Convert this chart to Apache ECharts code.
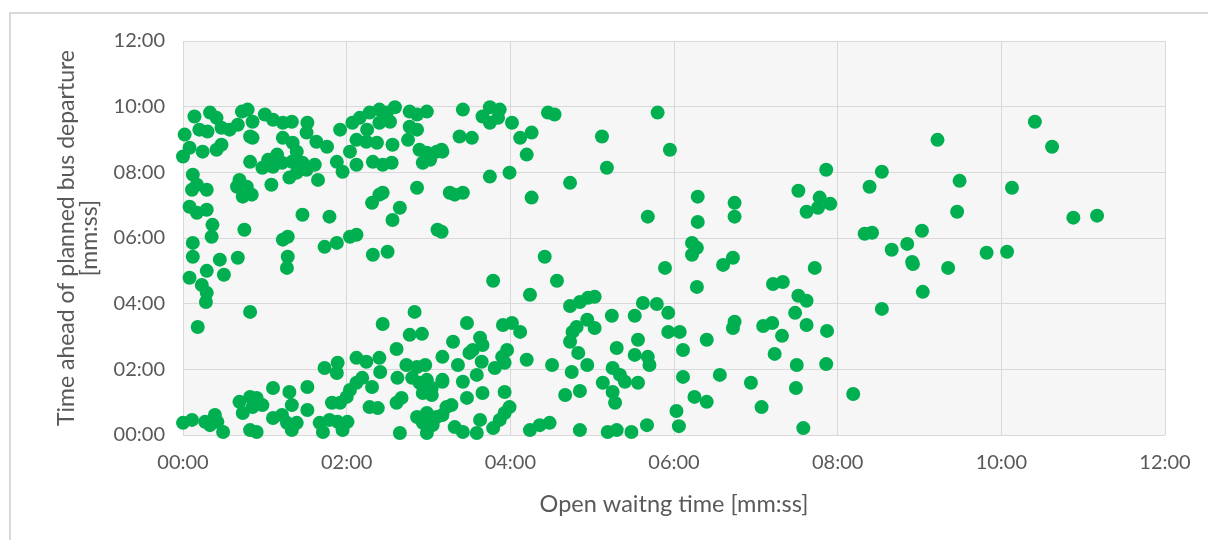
<!DOCTYPE html>
<html>
<head>
<meta charset="utf-8">
<script src="https://cdn.jsdelivr.net/npm/echarts@6/dist/echarts.min.js"></script>
<style>
html,body{margin:0;padding:0;background:#fff;}
#chart{width:1208px;height:540px;}
</style>
</head>
<body>
<div id="chart"></div>
<script>
// Values in minutes: [open waiting time, time ahead of planned bus departure]
const xTicks = [0, 2, 4, 6, 8, 10, 12];
const yTicks = [0, 2, 4, 6, 8, 10, 12];

const upperGroup = [
[0.14,9.70],[0.33,9.82],[0.41,9.66],[0.02,9.15],[0.20,9.30],[0.30,9.24],[0.47,9.36],[0.00,8.48],
[0.08,8.75],[0.24,8.63],[0.41,8.69],[0.47,8.84],[0.57,9.30],[0.72,9.85],[0.79,9.91],[0.85,9.54],
[1.00,9.76],[1.10,9.60],[1.22,9.51],[1.33,9.54],[0.82,9.09],[0.67,9.45],[0.85,9.05],[1.22,9.05],
[1.34,8.90],[1.52,9.51],[1.51,9.21],[1.63,8.93],[1.76,8.78],[1.39,8.63],[1.15,8.54],[1.04,8.38],
[0.97,8.14],[1.10,8.17],[1.21,8.29],[1.33,8.32],[1.30,7.84],[1.08,7.62],[1.39,7.99],[1.46,8.29],
[1.51,8.08],[1.61,8.23],[1.65,7.77],[0.82,8.32],[0.69,7.77],[0.66,7.56],[0.78,7.56],[0.84,7.32],
[0.73,7.26],[0.12,7.93],[0.17,7.62],[0.11,7.47],[0.29,7.47],[0.08,6.95],[0.17,6.77],[0.29,6.86],
[0.36,6.40],[0.35,6.04],[0.75,6.25],[0.12,5.85],[1.46,6.71],[1.79,6.65],[1.22,5.95],[1.28,6.04],
[1.28,5.43],[1.73,5.73],[1.88,5.85],[2.04,6.04],[2.12,6.10],[0.12,5.43],[0.45,5.34],[0.67,5.40],
[1.92,9.30],[2.07,9.51],[2.16,9.66],[2.28,9.82],[2.40,9.91],[2.49,9.82],[2.59,9.98],[2.40,9.51],
[2.53,9.54],[2.25,9.30],[2.12,8.99],[2.24,8.93],[2.37,8.90],[2.56,8.84],[2.04,8.63],[1.88,8.32],
[1.95,8.02],[2.12,8.23],[2.32,8.32],[2.44,8.23],[2.55,8.29],[2.77,9.85],[2.86,9.76],[2.98,9.85],
[2.77,9.39],[2.86,9.30],[2.75,8.99],[2.89,8.69],[2.98,8.60],[3.10,8.63],[3.16,8.69],[2.93,8.29],
[3.02,8.38],[2.86,7.53],[2.31,7.07],[2.40,7.32],[2.44,7.38],[2.65,6.92],[2.56,6.55],[3.11,6.25],
[2.32,5.49],[2.50,5.58],[3.26,7.38],
[3.42,9.91],[3.75,9.98],[3.87,9.91],[3.66,9.70],[3.75,9.51],[3.85,9.66],[4.02,9.51],[4.46,9.82],
[4.54,9.76],[5.80,9.82],[3.38,9.09],[3.53,9.05],[4.12,9.05],[4.26,9.21],[4.20,8.54],[5.12,9.09],
[5.95,8.69],[3.17,8.63],[5.18,8.14],[3.75,7.87],[3.99,7.99],[4.73,7.68],[3.32,7.32],[3.42,7.38],
[4.26,7.23],[5.68,6.65],[6.29,7.26],[6.29,6.49],[6.74,7.07],[6.74,6.65],[3.16,6.19],[4.42,5.43],
[6.22,5.85],[6.28,5.70],[6.22,5.49],[6.72,5.40],[6.60,5.18]
];

const rightGroup = [
[10.41,9.54],[9.22,8.99],[7.86,8.08],[8.54,8.02],[8.39,7.56],[9.49,7.74],[10.13,7.53],[7.52,7.44],
[7.62,6.80],[7.78,7.23],[7.76,6.92],[7.91,7.04],[9.46,6.80],[8.33,6.13],[8.42,6.16],[9.03,6.22],
[8.85,5.82],[8.66,5.64],[9.82,5.55],[10.07,5.58],[8.91,5.27],[10.62,8.78],[10.88,6.62],[11.17,6.68],
[7.72,5.09],[7.21,4.60],[7.33,4.66],[7.52,4.24],[7.62,4.09],[7.48,3.72],[6.74,3.45],[6.72,3.26],
[7.09,3.32],[7.20,3.41],[7.62,3.35],[7.32,3.02],[7.87,3.17],[7.23,2.47],[7.50,2.13],[7.86,2.16],
[6.94,1.59],[7.49,1.43],[7.07,0.85],[8.19,1.25],[7.58,0.21],[8.92,5.21],[9.35,5.09],[9.04,4.36],
[8.54,3.84]
];

const lowerGroup = [
[3.79,4.70],[4.57,4.70],[4.24,4.27],[5.89,5.09],[6.28,4.51],[4.73,3.93],[4.85,4.05],[4.95,4.18],
[5.03,4.21],[5.62,4.02],[5.79,3.99],[5.93,3.72],[5.24,3.63],[5.52,3.63],[4.81,3.29],[4.76,3.14],
[4.94,3.51],[5.03,3.26],[4.73,2.84],[4.83,2.50],[4.94,2.13],[4.75,1.92],[4.67,1.22],[4.85,1.34],
[5.30,2.65],[5.56,2.90],[5.52,2.44],[5.68,2.38],[5.70,2.13],[5.25,2.04],[5.34,1.83],[5.40,1.62],
[5.56,1.59],[5.13,1.59],[5.25,1.31],[5.28,0.98],[5.93,3.14],[6.07,3.14],[6.11,2.59],[6.40,2.90],
[6.11,1.77],[6.56,1.83],[6.25,1.16],[6.40,1.01],[6.03,0.73],[6.06,0.27],[5.67,0.30],[5.48,0.09],
[5.19,0.09],[5.30,0.15],[4.85,0.15],[4.24,0.15],[4.36,0.30],[4.48,0.37],[3.47,3.41],[3.30,2.84],
[3.17,2.38],[3.36,2.13],[3.54,2.59],[3.63,2.96],[3.66,2.74],[3.50,2.50],[3.65,2.23],[3.59,1.83],
[3.42,1.62],[3.17,1.62],[3.91,3.35],[4.02,3.41],[4.12,3.14],[3.96,2.59],[3.90,2.38],[3.81,2.04],
[3.93,2.20],[4.20,2.29],[4.51,2.13],[3.66,1.28],[3.93,1.31],[3.47,1.13],[3.28,0.91],[3.17,0.61],
[3.99,0.85],[3.93,0.67],[3.87,0.46],[3.63,0.46],[3.79,0.21],[3.32,0.24],[3.42,0.09],[3.59,0.06],
[0.29,5.00],[0.50,4.88],[0.08,4.79],[0.23,4.57],[0.29,4.33],[0.28,4.05],[0.82,3.75],[0.18,3.29],
[1.27,5.09],[2.83,3.75],[2.44,3.38],[2.77,3.05],[2.92,3.08],[2.61,2.62],[1.73,2.04],[1.89,2.20],
[1.88,1.89],[2.12,2.35],[2.24,2.23],[2.40,2.35],[2.41,1.92],[2.19,1.74],[2.31,1.46],[2.12,1.59],
[2.04,1.37],[2.00,1.16],[1.82,0.98],[1.92,0.98],[2.28,0.85],[2.38,0.82],[2.61,0.98],[2.67,1.13],
[2.62,1.74],[2.73,2.13],[2.86,2.07],[2.96,2.13],[2.80,1.74],[2.89,1.59],[2.98,1.68],[3.04,1.43],
[2.93,1.28],[3.04,1.22],[3.17,1.68],[3.22,0.85],[2.86,0.55],[2.98,0.67],[3.10,0.55],[2.93,0.37],
[3.05,0.30],[2.98,0.06],[2.65,0.06],[1.10,1.43],[1.30,1.31],[1.33,0.91],[1.52,1.46],[1.52,0.76],
[0.69,1.01],[0.82,1.16],[0.90,1.13],[0.97,0.91],[0.73,0.67],[0.85,0.85],[1.10,0.52],[1.21,0.61],
[1.27,0.37],[1.33,0.15],[1.39,0.37],[0.82,0.15],[0.90,0.09],[1.67,0.37],[1.71,0.09],[1.79,0.46],
[1.89,0.40],[2.01,0.40],[1.95,0.15],[0.00,0.37],[0.11,0.46],[0.27,0.40],[0.39,0.61],[0.42,0.40],
[0.49,0.09],[0.33,0.30]
];

const allPoints = upperGroup.concat(rightGroup, lowerGroup);

function mmss(v) {
  const m = Math.floor(v);
  const s = Math.round((v - m) * 60);
  return String(m).padStart(2, '0') + ':' + String(s).padStart(2, '0');
}

const FONT = 'Lato';
const TXT = '#595959';
const GRID = '#d9d9d9';

const chart = echarts.init(document.getElementById('chart'), null, {renderer: 'canvas'});
chart.setOption({
  animation: false,
  backgroundColor: '#ffffff',
  graphic: [{
    type: 'rect', z: -10, silent: true,
    shape: {x: 10, y: 13, width: 1300, height: 600},
    style: {fill: '#ffffff', stroke: '#d9d9d9', lineWidth: 2}
  }],
  grid: {left: 183, right: 43, top: 41, bottom: 105, show: true, backgroundColor: '#f6f6f6', borderWidth: 0},
  xAxis: {
    type: 'value', min: xTicks[0], max: xTicks[xTicks.length - 1], interval: 2,
    name: 'Open waitng time [mm:ss]', nameLocation: 'middle', nameGap: 57,
    nameTextStyle: {fontFamily: FONT, fontSize: 23.5, color: TXT},
    axisLine: {show: false}, axisTick: {show: false},
    axisLabel: {fontFamily: FONT, fontSize: 20, color: TXT, margin: 18, formatter: mmss},
    splitLine: {show: true, lineStyle: {color: GRID, width: 1}}
  },
  yAxis: {
    type: 'value', min: yTicks[0], max: yTicks[yTicks.length - 1], interval: 2,
    name: 'Time ahead of planned bus departure\n[mm:ss]', nameLocation: 'middle', nameGap: 82,
    nameRotate: 90,
    nameTextStyle: {fontFamily: FONT, fontSize: 23, color: TXT, lineHeight: 23},
    axisLine: {show: false}, axisTick: {show: false},
    axisLabel: {fontFamily: FONT, fontSize: 20, color: TXT, margin: 18, formatter: mmss},
    splitLine: {show: true, lineStyle: {color: GRID, width: 1}}
  },
  series: [{
    type: 'scatter',
    data: allPoints,
    symbol: 'circle',
    symbolSize: 14,
    itemStyle: {color: '#00b050', opacity: 1},
    emphasis: {disabled: true}
  }]
});
</script>
</body>
</html>
